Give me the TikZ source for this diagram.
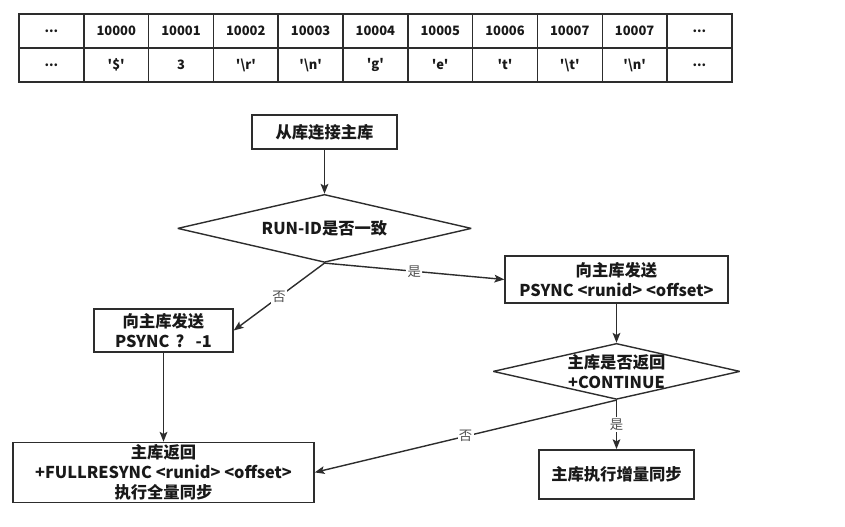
\documentclass[tikz,border=0pt]{standalone}
\usepackage{fontspec}
\newfontfamily\cjk{Noto Sans CJK SC}
\usepackage{tikz}
\definecolor{colline}{RGB}{45,45,45}
\definecolor{coltext}{RGB}{25,25,25}
\definecolor{collabel}{RGB}{80,80,80}
\usetikzlibrary{
	arrows.meta,
	shapes.geometric,
	positioning
}
\newcommand\dotsym{.{}.{}.}
\tikzset{
	>={Stealth[length=7pt,width=5.5pt,inset=1.5pt]},
	cell/.style={draw=colline, line width=1pt, minimum width=1.62cm, minimum height=0.85cm,
		inner sep=0pt, text=coltext, font=\cjk\bfseries\fontsize{9.2}{10}\selectfont},
	stepbox/.style={draw=colline, line width=1pt, align=center, inner sep=0pt, text=coltext,
		font=\cjk\bfseries\fontsize{11.6}{14.5}\selectfont},
	decision/.style={diamond, draw=colline, line width=1pt, miter limit=3, inner sep=0pt},
	decisiontext/.style={align=center, inner sep=0pt, text=coltext,
		font=\cjk\bfseries\fontsize{11.6}{14.5}\selectfont},
	flowedge/.style={->, color=colline, line width=1pt},
	edgelabel/.style={fill=white, inner sep=1pt, text=collabel,
		font=\cjk\fontsize{9.5}{10}\selectfont}
}

\begin{document}
\begin{tikzpicture}
	\useasboundingbox (0,0) rectangle (21.125,-13.175);

	% memory table
	\foreach \t [count=\i] in {\dotsym,10000,10001,10002,10003,10004,10005,10006,10007,10007,\dotsym}
		\node[cell] (top\i) at ({0.475+1.62*(\i-0.5)},-0.775) {\t};
	\foreach \t [count=\i] in {\dotsym,'\$',3,'\textbackslash r','\textbackslash n','g','e','t','\textbackslash t','\textbackslash n',\dotsym}
		\node[cell] (bot\i) at ({0.475+1.62*(\i-0.5)},-1.625) {\t};

	% flow
	\node[stepbox, minimum width=3.625cm, minimum height=0.85cm] (connect) at (8.1125,-3.3) {从库连接主库};
	\node[decision, minimum width=7.35cm, minimum height=1.7cm,
		label={[decisiontext]center:RUN-ID是否一致}] (runid) [below=1.1cm of connect] {};
	\node[stepbox, minimum width=5.575cm, minimum height=1.175cm] (psync) at (15.4125,-6.9875)
		{向主库发送\\PSYNC <runid> <offset>};
	\node[decision, minimum width=6.175cm, minimum height=1.4cm,
		label={[decisiontext]center:{主库是否返回\\+CONTINUE}}] (cont) [below=0.975cm of psync] {};
	\node[stepbox, minimum width=3.875cm, minimum height=1.225cm] (partial) [below=1.225cm of cont] {主库执行增量同步};
	\node[stepbox, minimum width=3.475cm, minimum height=1.075cm] (psyncfull) at (4.0875,-8.2625)
		{向主库发送\\PSYNC\hspace{4.5pt}?\hspace{8pt}-1};
	\node[stepbox, minimum width=7.525cm, minimum height=1.5cm] (fullsync) [below=2.225cm of psyncfull]
		{主库返回\\+FULLRESYNC <runid> <offset>\\执行全量同步};

	\path[flowedge]
		(connect) edge (runid)
		(runid.south) edge node[edgelabel] {是} (psync.west)
			edge node[edgelabel] {否} (psyncfull.east)
		(psync) edge (cont)
		(cont.south) edge node[edgelabel] {是} (partial.north)
			edge node[edgelabel] {否} (fullsync.east)
		(psyncfull) edge (fullsync)
	;
\end{tikzpicture}
\end{document}
